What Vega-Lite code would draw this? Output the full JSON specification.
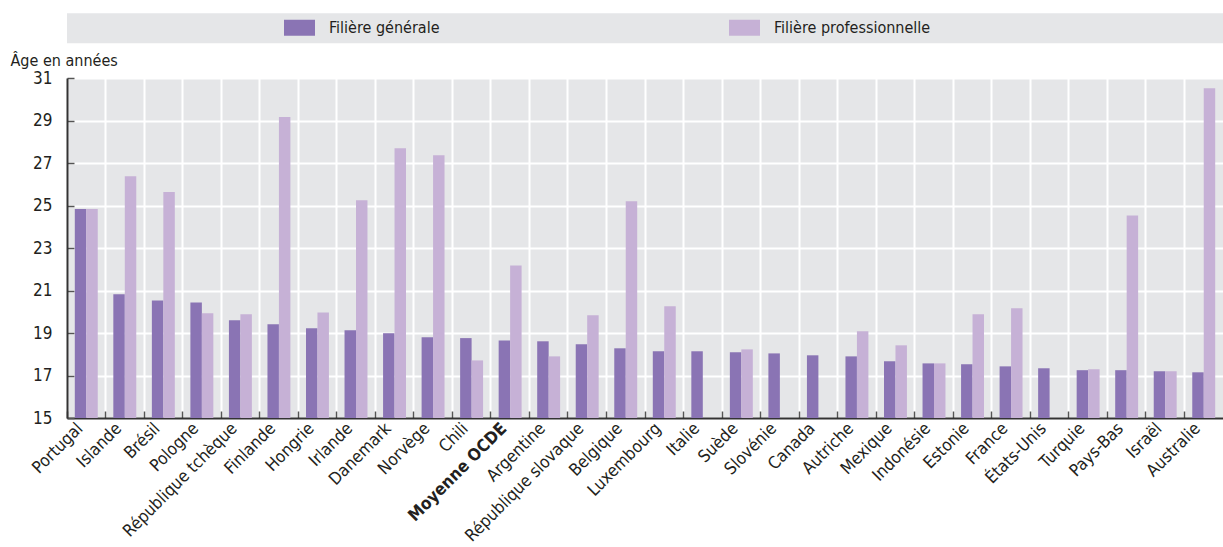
{
  "$schema": "https://vega.github.io/schema/vega-lite/v6.json",
  "width": 1156,
  "height": 340,
  "autosize": "none",
  "padding": {"left": 67, "top": 78, "right": 0, "bottom": 129},
  "background": "white",
  "config": {
    "font": "Liberation Sans Narrow, DejaVu Sans Condensed, sans-serif",
    "view": {"fill": "#e5e6e8", "stroke": null},
    "axis": {"labelColor": "#231f20", "titleColor": "#231f20"},
    "legend": {"labelColor": "#231f20"}
  },
  "datasets": {
    "ages": [
      {"pays": "Portugal", "filiere": "Filière générale", "age": 24.83},
      {"pays": "Portugal", "filiere": "Filière professionnelle", "age": 24.83},
      {"pays": "Islande", "filiere": "Filière générale", "age": 20.82},
      {"pays": "Islande", "filiere": "Filière professionnelle", "age": 26.38},
      {"pays": "Brésil", "filiere": "Filière générale", "age": 20.53},
      {"pays": "Brésil", "filiere": "Filière professionnelle", "age": 25.63},
      {"pays": "Pologne", "filiere": "Filière générale", "age": 20.44},
      {"pays": "Pologne", "filiere": "Filière professionnelle", "age": 19.93},
      {"pays": "République tchèque", "filiere": "Filière générale", "age": 19.6},
      {"pays": "République tchèque", "filiere": "Filière professionnelle", "age": 19.88},
      {"pays": "Finlande", "filiere": "Filière générale", "age": 19.41},
      {"pays": "Finlande", "filiere": "Filière professionnelle", "age": 29.16},
      {"pays": "Hongrie", "filiere": "Filière générale", "age": 19.22},
      {"pays": "Hongrie", "filiere": "Filière professionnelle", "age": 19.97},
      {"pays": "Irlande", "filiere": "Filière générale", "age": 19.13},
      {"pays": "Irlande", "filiere": "Filière professionnelle", "age": 25.25},
      {"pays": "Danemark", "filiere": "Filière générale", "age": 18.99},
      {"pays": "Danemark", "filiere": "Filière professionnelle", "age": 27.7},
      {"pays": "Norvège", "filiere": "Filière générale", "age": 18.8},
      {"pays": "Norvège", "filiere": "Filière professionnelle", "age": 27.37},
      {"pays": "Chili", "filiere": "Filière générale", "age": 18.76},
      {"pays": "Chili", "filiere": "Filière professionnelle", "age": 17.71},
      {"pays": "Moyenne OCDE", "filiere": "Filière générale", "age": 18.65},
      {"pays": "Moyenne OCDE", "filiere": "Filière professionnelle", "age": 22.18},
      {"pays": "Argentine", "filiere": "Filière générale", "age": 18.61},
      {"pays": "Argentine", "filiere": "Filière professionnelle", "age": 17.9},
      {"pays": "République slovaque", "filiere": "Filière générale", "age": 18.47},
      {"pays": "République slovaque", "filiere": "Filière professionnelle", "age": 19.83},
      {"pays": "Belgique", "filiere": "Filière générale", "age": 18.28},
      {"pays": "Belgique", "filiere": "Filière professionnelle", "age": 25.2},
      {"pays": "Luxembourg", "filiere": "Filière générale", "age": 18.14},
      {"pays": "Luxembourg", "filiere": "Filière professionnelle", "age": 20.26},
      {"pays": "Italie", "filiere": "Filière générale", "age": 18.14},
      {"pays": "Suède", "filiere": "Filière générale", "age": 18.09},
      {"pays": "Suède", "filiere": "Filière professionnelle", "age": 18.23},
      {"pays": "Slovénie", "filiere": "Filière générale", "age": 18.04},
      {"pays": "Canada", "filiere": "Filière générale", "age": 17.95},
      {"pays": "Autriche", "filiere": "Filière générale", "age": 17.9},
      {"pays": "Autriche", "filiere": "Filière professionnelle", "age": 19.08},
      {"pays": "Mexique", "filiere": "Filière générale", "age": 17.67},
      {"pays": "Mexique", "filiere": "Filière professionnelle", "age": 18.42},
      {"pays": "Indonésie", "filiere": "Filière générale", "age": 17.57},
      {"pays": "Indonésie", "filiere": "Filière professionnelle", "age": 17.57},
      {"pays": "Estonie", "filiere": "Filière générale", "age": 17.53},
      {"pays": "Estonie", "filiere": "Filière professionnelle", "age": 19.88},
      {"pays": "France", "filiere": "Filière générale", "age": 17.43},
      {"pays": "France", "filiere": "Filière professionnelle", "age": 20.16},
      {"pays": "États-Unis", "filiere": "Filière générale", "age": 17.34},
      {"pays": "Turquie", "filiere": "Filière générale", "age": 17.25},
      {"pays": "Turquie", "filiere": "Filière professionnelle", "age": 17.29},
      {"pays": "Pays-Bas", "filiere": "Filière générale", "age": 17.25},
      {"pays": "Pays-Bas", "filiere": "Filière professionnelle", "age": 24.53},
      {"pays": "Israël", "filiere": "Filière générale", "age": 17.2},
      {"pays": "Israël", "filiere": "Filière professionnelle", "age": 17.2},
      {"pays": "Australie", "filiere": "Filière générale", "age": 17.15},
      {"pays": "Australie", "filiere": "Filière professionnelle", "age": 30.52}
    ]
  },
  "data": {"name": "ages"},
  "layer": [
    {
      "data": {"values": [{}]},
      "mark": {"type": "rect", "color": "#e5e6e8"},
      "encoding": {
        "x": {"datum": 0, "type": "quantitative", "scale": {"domain": [0, 1], "nice": false, "zero": false}, "axis": null},
        "x2": {"datum": 1},
        "y": {"datum": 34.05, "type": "quantitative"},
        "y2": {"datum": 32.64}
      }
    },
    {
      "mark": {"type": "bar"},
      "encoding": {
        "x": {
          "field": "pays",
          "type": "nominal",
          "sort": ["Portugal", "Islande", "Brésil", "Pologne", "République tchèque", "Finlande", "Hongrie", "Irlande", "Danemark", "Norvège", "Chili", "Moyenne OCDE", "Argentine", "République slovaque", "Belgique", "Luxembourg", "Italie", "Suède", "Slovénie", "Canada", "Autriche", "Mexique", "Indonésie", "Estonie", "France", "États-Unis", "Turquie", "Pays-Bas", "Israël", "Australie"],
          "scale": {"paddingInner": 0, "paddingOuter": 0},
          "axis": {
            "title": null,
            "bandPosition": 0,
            "labelOffset": -11.7,
            "labelAngle": -45,
            "labelAlign": "right",
            "labelBaseline": "top",
            "labelFontSize": 17,
            "labelPadding": 9,
            "labelFontWeight": {"condition": {"test": "datum.value === 'Moyenne OCDE'", "value": "bold"}, "value": "normal"},
            "grid": true,
            "gridColor": "white",
            "gridWidth": 2,
            "domainColor": "#333333",
            "domainWidth": 2,
            "tickColor": "#555555",
            "tickSize": -7,
            "tickWidth": 1.5
          }
        },
        "xOffset": {
          "field": "filiere",
          "type": "nominal",
          "sort": ["Filière générale", "Filière professionnelle"],
          "scale": {"domain": ["Filière générale", "Filière professionnelle"], "paddingInner": 0, "paddingOuter": 0.68}
        },
        "y": {
          "field": "age",
          "type": "quantitative",
          "scale": {"domain": [15, 31], "zero": false, "nice": false},
          "axis": {
            "title": "Âge en années",
            "titleAngle": 0,
            "titleAlign": "left",
            "titleBaseline": "alphabetic",
            "titleX": -57,
            "titleY": -13,
            "titleFontSize": 16,
            "titleFontWeight": "normal",
            "values": [15, 17, 19, 21, 23, 25, 27, 29, 31],
            "labelFontSize": 17,
            "labelPadding": 22,
            "grid": true,
            "gridColor": "white",
            "gridWidth": 2,
            "domainColor": "#333333",
            "domainWidth": 2,
            "tickColor": "#555555",
            "tickSize": -7,
            "tickWidth": 1.5
          }
        },
        "y2": {"datum": 15},
        "color": {
          "field": "filiere",
          "type": "nominal",
          "scale": {"domain": ["Filière générale", "Filière professionnelle"], "range": ["#8a74b4", "#c6b1d6"]},
          "legend": {
            "title": null,
            "orient": "none",
            "legendX": 217,
            "legendY": -66,
            "direction": "horizontal",
            "symbolType": "M-1,-0.516H1V0.516H-1Z",
            "symbolSize": 961,
            "symbolStrokeWidth": 0,
            "symbolOpacity": 1,
            "labelFontSize": 16,
            "labelOffset": 14,
            "columnPadding": 289,
            "padding": 0
          }
        }
      }
    }
  ],
  "resolve": {"scale": {"x": "independent"}}
}
